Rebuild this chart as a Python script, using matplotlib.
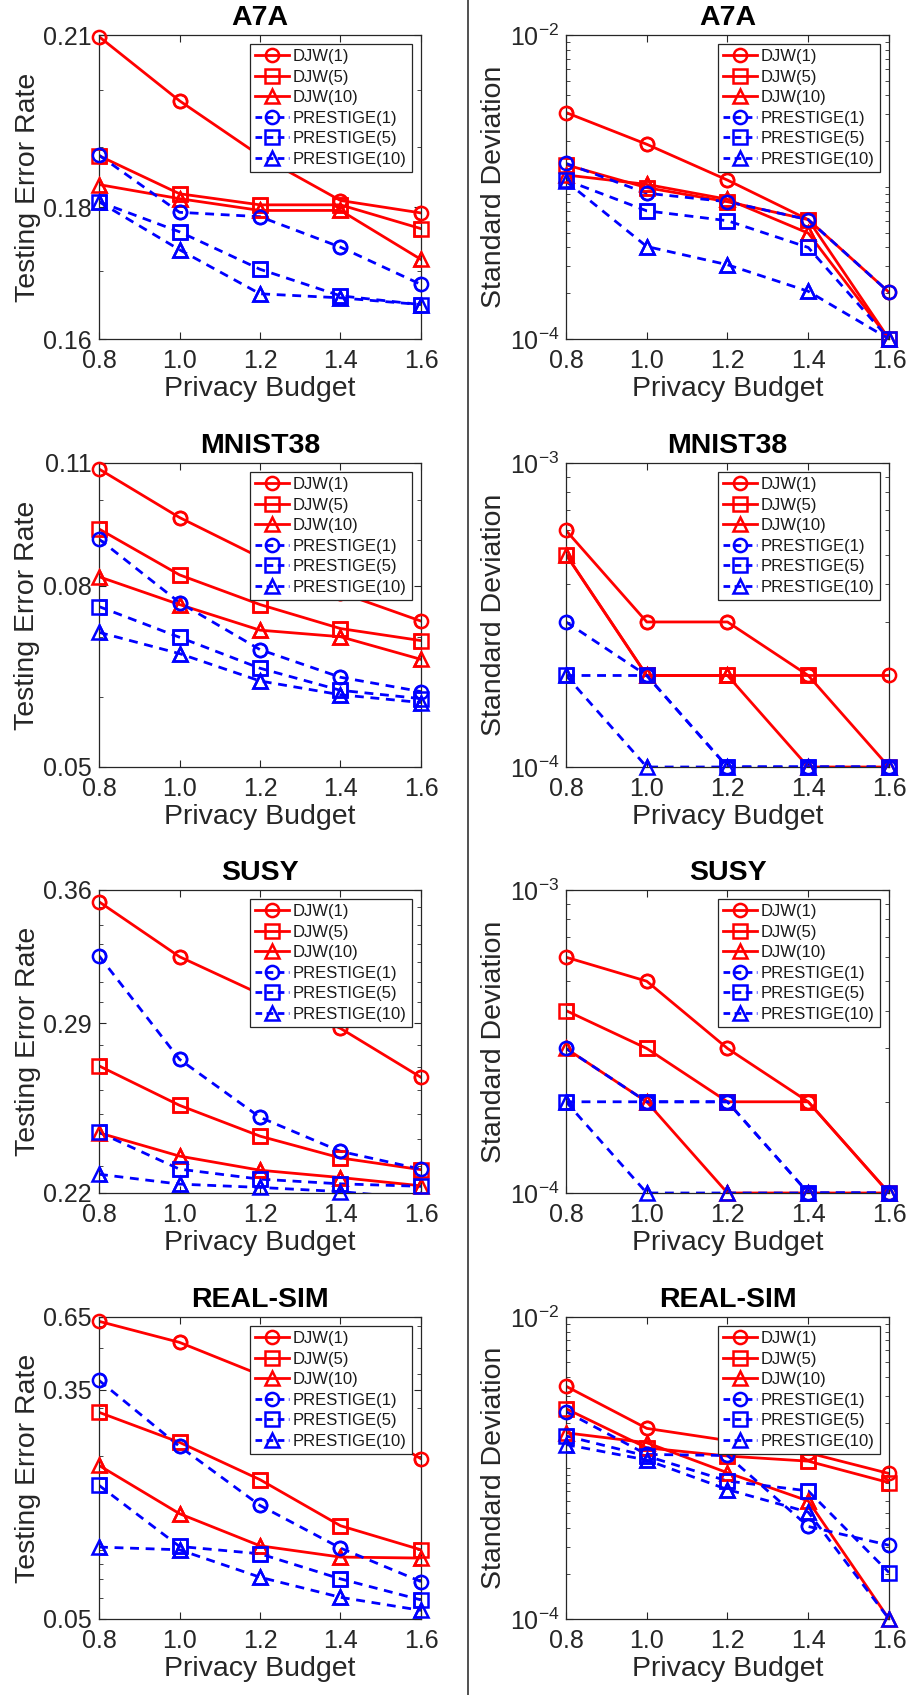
import numpy as np
import matplotlib
matplotlib.use("Agg")
import matplotlib.pyplot as plt
from matplotlib.ticker import FixedLocator, NullFormatter, FixedFormatter, LogLocator

plt.rcParams['font.family'] = ['Liberation Sans', 'DejaVu Sans']
plt.rcParams['mathtext.fontset'] = 'custom'
plt.rcParams['mathtext.rm'] = 'Liberation Sans'

budget = [0.8, 1.0, 1.2, 1.4, 1.6]
series_names = ["DJW(1)", "DJW(5)", "DJW(10)", "PRESTIGE(1)", "PRESTIGE(5)", "PRESTIGE(10)"]
datasets = ["A7A", "MNIST38", "SUSY", "REAL-SIM"]

# Testing error rate
err_a7a = [
    [0.2097, 0.198, 0.1885, 0.1811, 0.1791],
    [0.1885, 0.1822, 0.1804, 0.1804, 0.1766],
    [0.1837, 0.1814, 0.1795, 0.1795, 0.1718],
    [0.1886, 0.1792, 0.1785, 0.1737, 0.168],
    [0.1809, 0.1761, 0.1703, 0.1663, 0.165],
    [0.1809, 0.1733, 0.1666, 0.166, 0.165],
]
err_mnist = [
    [0.1083, 0.0955, 0.0861, 0.0786, 0.0730],
    [0.0927, 0.0823, 0.0762, 0.0716, 0.0694],
    [0.0819, 0.0762, 0.0713, 0.0701, 0.0661],
    [0.0903, 0.0766, 0.0678, 0.0631, 0.0608],
    [0.0758, 0.0700, 0.0646, 0.0610, 0.0597],
    [0.0709, 0.0671, 0.0625, 0.0603, 0.0591],
]
err_susy = [
    [0.3532, 0.323, 0.304, 0.2875, 0.2655],
    [0.2705, 0.2537, 0.2413, 0.2329, 0.2285],
    [0.2426, 0.2336, 0.2283, 0.2256, 0.2226],
    [0.3235, 0.2734, 0.2488, 0.2354, 0.2287],
    [0.2428, 0.2287, 0.2250, 0.2233, 0.2224],
    [0.2268, 0.2232, 0.2220, 0.2205, 0.2180],
]
err_realsim = [
    [0.6265, 0.524, 0.398, 0.290, 0.195],
    [0.2893, 0.2242, 0.1633, 0.1104, 0.0900],
    [0.1843, 0.1223, 0.0931, 0.0846, 0.0839],
    [0.3795, 0.2167, 0.1312, 0.0913, 0.0687],
    [0.1556, 0.0926, 0.0870, 0.0703, 0.0588],
    [0.0921, 0.0900, 0.0713, 0.0601, 0.0538],
]

# Standard deviation
std_a7a = [
    [3.09e-3, 1.91e-3, 1.11e-3, 6.1e-4, 2.03e-4],
    [1.40e-3, 9.9e-4, 8.0e-4, 6.1e-4, 1e-4],
    [1.20e-3, 1.04e-3, 8.3e-4, 4.97e-4, 1e-4],
    [1.43e-3, 9.1e-4, 8.0e-4, 6.1e-4, 2.03e-4],
    [1.11e-3, 6.97e-4, 6.0e-4, 4.0e-4, 1e-4],
    [1.09e-3, 4.06e-4, 3.08e-4, 2.06e-4, 1e-4],
]
std_mnist = [
    [6e-4, 3e-4, 3e-4, 2e-4, 2e-4],
    [5e-4, 2e-4, 2e-4, 2e-4, 1e-4],
    [5e-4, 2e-4, 2e-4, 1e-4, 1e-4],
    [3e-4, 2e-4, 1e-4, 1e-4, 1e-4],
    [2e-4, 2e-4, 1e-4, 1e-4, 1e-4],
    [2e-4, 1e-4, 1e-4, 1e-4, 1e-4],
]
std_susy = [
    [6e-4, 5e-4, 3e-4, 2e-4, 1e-4],
    [4e-4, 3e-4, 2e-4, 2e-4, 1e-4],
    [3e-4, 2e-4, 1e-4, 1e-4, 1e-4],
    [3e-4, 2e-4, 2e-4, 1e-4, 1e-4],
    [2e-4, 2e-4, 2e-4, 1e-4, 1e-4],
    [2e-4, 1e-4, 1e-4, 1e-4, 1e-4],
]
std_realsim = [
    [3.48e-3, 1.83e-3, 1.52e-3, 1.26e-3, 9.2e-4],
    [2.47e-3, 1.36e-3, 1.20e-3, 1.11e-3, 8.0e-4],
    [1.71e-3, 1.47e-3, 9.3e-4, 6.05e-4, 1e-4],
    [2.36e-3, 1.23e-3, 1.21e-3, 4.1e-4, 3.08e-4],
    [1.63e-3, 1.20e-3, 8.2e-4, 7.05e-4, 2.03e-4],
    [1.43e-3, 1.13e-3, 7.2e-4, 5.1e-4, 1e-4],
]

err_data = [err_a7a, err_mnist, err_susy, err_realsim]
std_data = [std_a7a, std_mnist, std_susy, std_realsim]

err_ticks = [[0.16, 0.18, 0.21], [0.05, 0.08, 0.11], [0.22, 0.29, 0.36], [0.05, 0.35, 0.65]]
err_labels = [["0.16", "0.18", "0.21"], ["0.05", "0.08", "0.11"], ["0.22", "0.29", "0.36"], ["0.05", "0.35", "0.65"]]
std_lims = [(1e-4, 1e-2), (1e-4, 1e-3), (1e-4, 1e-3), (1e-4, 1e-2)]
std_labels = [[r"$\mathregular{10^{-4}}$", r"$\mathregular{10^{-2}}$"],
              [r"$\mathregular{10^{-4}}$", r"$\mathregular{10^{-3}}$"],
              [r"$\mathregular{10^{-4}}$", r"$\mathregular{10^{-3}}$"],
              [r"$\mathregular{10^{-4}}$", r"$\mathregular{10^{-2}}$"]]
minor_steps = [0.01, 0.01, 0.01, None]

colors = ['#ff0000'] * 3 + ['#0000ff'] * 3
markers = ['o', 's', '^', 'o', 's', '^']
styles = ['-', '-', '-', '--', '--', '--']

W, H = 912, 1695
fig = plt.figure(figsize=(W / 100, H / 100), dpi=100)

ax_gray = '#262626'
tops = [35, 463, 890, 1317]
bottoms = [339, 767, 1193, 1619]
lefts = [(99, 421), (566, 889)]


def add_axes(px0, px1, top, bottom):
    return fig.add_axes([px0 / W, 1 - bottom / H, (px1 - px0) / W, (bottom - top) / H])


def draw_series(ax, values, ylim):
    handles = []
    x = np.array(budget)
    for i, name in enumerate(series_names):
        y = np.array(values[i])
        kw = dict(color=colors[i], marker=markers[i], markersize=9.5, mew=1.8,
                  mfc='none', lw=2.0)
        if styles[i] == '--':
            kw['dashes'] = (3.2, 2.4)
        h, = ax.plot(x, y, linestyle=styles[i], label=name, markevery=[], **kw)
        mask = (y >= ylim[0] * 0.999) & (y <= ylim[1] * 1.001)
        ax.plot(x[mask], y[mask], linestyle='none', marker=markers[i], markersize=9.5,
                mew=1.8, mfc='none', color=colors[i], clip_on=False, zorder=3)
        h.set_markevery(None)
        handles.append(h)
    return handles


def style_axes(ax):
    for s in ax.spines.values():
        s.set_color(ax_gray)
        s.set_linewidth(0.9)
    ax.tick_params(which='both', direction='in', top=True, right=True, colors=ax_gray,
                   labelsize=18, labelcolor=ax_gray)
    ax.tick_params(which='major', length=5)
    ax.tick_params(axis='y', which='major', pad=5)
    ax.tick_params(axis='x', which='major', pad=7.5)
    ax.tick_params(which='minor', length=3)
    ax.set_xlim(0.8, 1.6)
    ax.set_xticks(budget)
    ax.set_xticklabels(["0.8", "1.0", "1.2", "1.4", "1.6"])
    ax.set_xlabel("Privacy Budget", fontsize=20.5, color=ax_gray, labelpad=2)


def add_legend(ax, handles):
    leg = ax.legend(handles=handles, loc='upper right', fontsize=12, borderaxespad=0.55,
                    handlelength=2.0, labelspacing=0.33, borderpad=0.3, handletextpad=0.25,
                    fancybox=False, framealpha=1, edgecolor=ax_gray)
    leg.get_frame().set_linewidth(0.9)
    for t in leg.get_texts():
        t.set_color('#1a1a1a')
    for ln in leg.get_lines():
        if ln.get_linestyle() != '-':
            ln.set_dashes((2.4, 1.6))


for r in range(4):
    # left: testing error rate (log scale)
    axl = add_axes(lefts[0][0], lefts[0][1], tops[r], bottoms[r])
    axl.set_yscale('log')
    ylim = (err_ticks[r][0], err_ticks[r][-1])
    axl.set_ylim(*ylim)
    h = draw_series(axl, err_data[r], ylim)
    style_axes(axl)
    axl.yaxis.set_major_locator(FixedLocator(err_ticks[r]))
    axl.yaxis.set_major_formatter(FixedFormatter(err_labels[r]))
    if minor_steps[r] is not None:
        st = minor_steps[r]
        mn = np.round(np.arange(ylim[0], ylim[1] + st / 2, st), 4)
        mn = [v for v in mn if v not in err_ticks[r]]
        axl.yaxis.set_minor_locator(FixedLocator(mn))
    else:
        axl.yaxis.set_minor_locator(LogLocator(base=10, subs=np.arange(2, 10)))
    axl.yaxis.set_minor_formatter(NullFormatter())
    axl.set_ylabel("Testing Error Rate", fontsize=20.5, color=ax_gray, labelpad=2)
    axl.set_title(datasets[r], fontsize=20.5, fontweight='bold', pad=7)
    add_legend(axl, h)

    # right: standard deviation (log scale)
    axr = add_axes(lefts[1][0], lefts[1][1], tops[r], bottoms[r])
    axr.set_yscale('log')
    ylim = std_lims[r]
    axr.set_ylim(*ylim)
    h = draw_series(axr, std_data[r], ylim)
    style_axes(axr)
    axr.yaxis.set_major_locator(FixedLocator(list(ylim)))
    axr.yaxis.set_major_formatter(FixedFormatter(std_labels[r]))
    axr.yaxis.set_minor_locator(LogLocator(base=10, subs=np.arange(1, 10)))
    axr.yaxis.set_minor_formatter(NullFormatter())
    axr.set_ylabel("Standard Deviation", fontsize=20.5, color=ax_gray, labelpad=2)
    axr.set_title(datasets[r], fontsize=20.5, fontweight='bold', pad=7)
    add_legend(axr, h)

# vertical divider between the two columns
fig.add_artist(plt.Line2D([468 / W, 468 / W], [0, 1], color='#333333', lw=1.2,
                          transform=fig.transFigure))

fig.savefig("out.png", dpi=100)
